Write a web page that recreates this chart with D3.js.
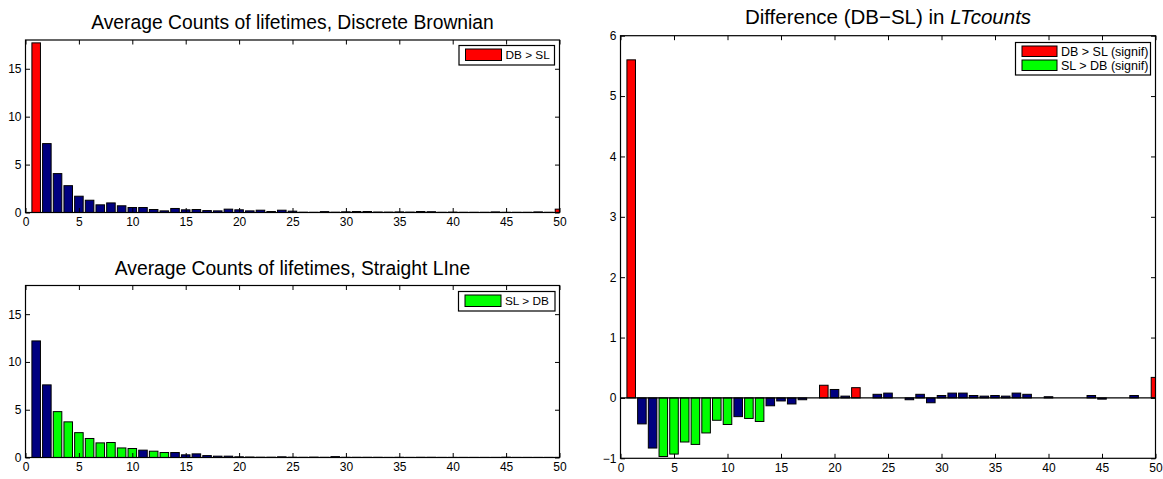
<!DOCTYPE html>
<html>
<head>
<meta charset="utf-8">
<script src="https://cdn.jsdelivr.net/npm/d3@7"></script>
<style>
html,body{margin:0;padding:0;background:#fff;}
svg{display:block;font-family:"Liberation Sans",Arial,Helvetica,sans-serif;}
</style>
</head>
<body>
<svg id="chart" width="1163" height="479"></svg>
<script>
// lifetime bins 1..50
const lifetimes = d3.range(1, 51);
const xTicks = [0, 5, 10, 15, 20, 25, 30, 35, 40, 45, 50];
const countTicks = [0, 5, 10, 15];
const diffTicks = [-1, 0, 1, 2, 3, 4, 5, 6];

// Average counts, Discrete Brownian
const dbCounts = [17.7, 7.19, 4.06, 2.8, 1.7, 1.28, 0.8, 1.0, 0.7, 0.52, 0.52, 0.31, 0.17, 0.42, 0.28, 0.31, 0.2, 0.17, 0.35, 0.28,
  0.17, 0.24, 0.1, 0.24, 0.14, 0.03, 0.02, 0.09, 0.03, 0.07, 0.1, 0.1, 0.05, 0.04, 0.06, 0.04, 0.1, 0.08, 0.02, 0.04,
  0.02, 0.02, 0.02, 0.06, 0.02, 0.02, 0.02, 0.06, 0.02, 0.35];
// Average counts, Straight Line
const slCounts = [12.2, 7.6, 4.8, 3.73, 2.6, 1.99, 1.53, 1.57, 1.0, 0.94, 0.77, 0.66, 0.52, 0.52, 0.28, 0.38, 0.2, 0.14, 0.14, 0.07,
  0.05, 0.03, 0.03, 0.07, 0.03, 0.02, 0.04, 0.02, 0.09, 0.02, 0.02, 0.02, 0.02, 0.01, 0.02, 0.01, 0.02, 0.02, 0.01, 0.01,
  0.01, 0.01, 0.01, 0.01, 0.03, 0.01, 0.01, 0.01, 0.01, 0.01];
// Difference DB - SL
const diffCounts = [5.6, -0.43, -0.83, -0.97, -0.93, -0.73, -0.77, -0.58, -0.37, -0.44, -0.31, -0.34, -0.39, -0.13, -0.05, -0.10, -0.03, 0.0, 0.21, 0.14,
  0.03, 0.17, 0.0, 0.06, 0.08, 0.0, -0.03, 0.06, -0.08, 0.04, 0.08, 0.08, 0.04, 0.03, 0.04, 0.03, 0.08, 0.06, 0.0, 0.02,
  0.0, 0.0, 0.0, 0.04, -0.02, 0.0, 0.0, 0.04, 0.0, 0.34];

// significance flags per panel (lifetime bins)
const dbPanelRed = [1, 50];
const slPanelGreen = [3, 4, 5, 6, 7, 8, 9, 10, 12, 13];
const diffRed = [1, 19, 22, 50];
const diffGreen = [4, 5, 6, 7, 8, 9, 10, 12, 13];

const titles = ["Average Counts of lifetimes, Discrete Brownian", "Average Counts of lifetimes, Straight LIne"];
const legendDB = ["DB > SL"];
const legendSL = ["SL > DB"];
const legendDiff = ["DB > SL (signif)", "SL > DB (signif)"];

const RED = "#ff0000", GREEN = "#00ff00", BLUE = "#000080";

const svg = d3.select("#chart");
let clipId = 0;

function panel(o) {
  const x = d3.scaleLinear().domain([0, 50]).range([o.left, o.right]);
  const y = d3.scaleLinear().domain(o.yDomain).range([o.bottom, o.top]);
  const g = svg.append("g");
  const id = "clip" + (clipId++);
  svg.append("clipPath").attr("id", id).append("rect")
    .attr("x", o.left).attr("y", o.top).attr("width", o.right - o.left).attr("height", o.bottom - o.top);

  const bw = x(0.8) - x(0);
  const bars = g.append("g").attr("clip-path", `url(#${id})`);
  bars.selectAll("rect").data(o.values).join("rect")
    .attr("x", (d, i) => x(lifetimes[i]) - bw / 2)
    .attr("y", d => y(Math.max(0, d)))
    .attr("width", bw)
    .attr("height", d => Math.abs(y(d) - y(0)))
    .attr("fill", (d, i) => o.color(lifetimes[i]))
    .attr("stroke", "#000").attr("stroke-width", 1);

  if (o.baseline) {
    g.append("line").attr("x1", o.left).attr("x2", o.right)
      .attr("y1", y(0)).attr("y2", y(0)).attr("stroke", "#000").attr("stroke-width", 1.2);
  }

  const tl = 4.5;
  // axes with inward ticks
  const bottomAx = d3.axisBottom(x).tickValues(xTicks).tickSizeInner(-tl).tickSizeOuter(0).tickPadding(8);
  const topAx = d3.axisTop(x).tickValues(xTicks).tickSizeInner(-tl).tickSizeOuter(0).tickFormat("");
  const leftAx = d3.axisLeft(y).tickValues(o.yTicks).tickSizeInner(-tl).tickSizeOuter(0).tickPadding(8);
  const rightAx = d3.axisRight(y).tickValues(o.yTicks).tickSizeInner(-tl).tickSizeOuter(0).tickFormat("");

  const styleAx = sel => {
    sel.selectAll(".domain").remove();
    sel.selectAll("line").attr("stroke", "#000");
    sel.selectAll("text").attr("fill", "#000").attr("font-size", "12px")
      .attr("font-family", "Liberation Sans, Arial, sans-serif");
  };
  g.append("g").attr("transform", `translate(0,${o.bottom})`).call(bottomAx).call(styleAx)
    .selectAll("text").attr("dy", "0.71em").attr("y", 5);
  g.append("g").attr("transform", `translate(0,${o.top})`).call(topAx).call(styleAx);
  g.append("g").attr("transform", `translate(${o.left},0)`).call(leftAx).call(styleAx)
    .selectAll("text").attr("x", -4).text(d => d < 0 ? "\u2212" + Math.abs(d) : d);
  g.append("g").attr("transform", `translate(${o.right},0)`).call(rightAx).call(styleAx);

  g.append("rect").attr("x", o.left).attr("y", o.top)
    .attr("width", o.right - o.left).attr("height", o.bottom - o.top)
    .attr("fill", "none").attr("stroke", "#000").attr("stroke-width", 1.2);

  // title
  const t = svg.append("text").attr("x", (o.left + o.right) / 2).attr("y", o.titleY)
    .attr("text-anchor", "middle").attr("font-size", o.titleSize + "px").attr("fill", "#000");
  o.title(t);

  // legend
  const L = o.legend;
  const lg = svg.append("g");
  lg.append("rect").attr("x", L.x).attr("y", L.y).attr("width", L.w).attr("height", L.h)
    .attr("fill", "#fff").attr("stroke", "#000").attr("stroke-width", 1.2);
  L.items.forEach((it, k) => {
    const yy = L.y + L.pad + k * L.step;
    lg.append("rect").attr("x", L.x + 6.5).attr("y", yy).attr("width", L.sw).attr("height", L.sh)
      .attr("fill", it.color).attr("stroke", "#000").attr("stroke-width", 1);
    lg.append("text").attr("x", L.x + 6.5 + L.sw + 4).attr("y", yy + L.sh / 2)
      .attr("dy", "0.36em").attr("font-size", L.fs + "px").attr("fill", "#000").text(it.label);
  });
}

panel({
  left: 25.5, right: 559.5, top: 40, bottom: 212.5,
  yDomain: [0, 18], yTicks: countTicks, values: dbCounts,
  color: k => dbPanelRed.includes(k) ? RED : BLUE,
  titleY: 29, titleSize: 19.3,
  title: t => t.text(titles[0]),
  legend: {x: 459, y: 45.5, w: 95.5, h: 19.5, pad: 3.5, step: 0, sw: 36, sh: 11.5, fs: 11.8,
    items: [{color: RED, label: legendDB[0]}]}
});

panel({
  left: 25.5, right: 559.5, top: 285.5, bottom: 457.5,
  yDomain: [0, 18], yTicks: countTicks, values: slCounts,
  color: k => slPanelGreen.includes(k) ? GREEN : BLUE,
  titleY: 275, titleSize: 19.3,
  title: t => t.text(titles[1]),
  legend: {x: 458.5, y: 291.5, w: 96.5, h: 19.5, pad: 3.5, step: 0, sw: 36, sh: 11.5, fs: 11.8,
    items: [{color: GREEN, label: legendSL[0]}]}
});

panel({
  left: 620.5, right: 1155.5, top: 35.7, bottom: 458.3,
  yDomain: [-1, 6], yTicks: diffTicks, values: diffCounts, baseline: true,
  color: k => diffRed.includes(k) ? RED : (diffGreen.includes(k) ? GREEN : BLUE),
  titleY: 24, titleSize: 20.5,
  title: t => {
    t.append("tspan").text("Difference (DB\u2212SL) in ");
    t.append("tspan").attr("font-style", "italic").text("LTcounts");
  },
  legend: {x: 1015.5, y: 42.5, w: 135, h: 32.5, pad: 3.5, step: 14, sw: 35, sh: 10.5, fs: 12.5,
    items: [{color: RED, label: legendDiff[0]}, {color: GREEN, label: legendDiff[1]}]}
});
</script>
</body>
</html>
